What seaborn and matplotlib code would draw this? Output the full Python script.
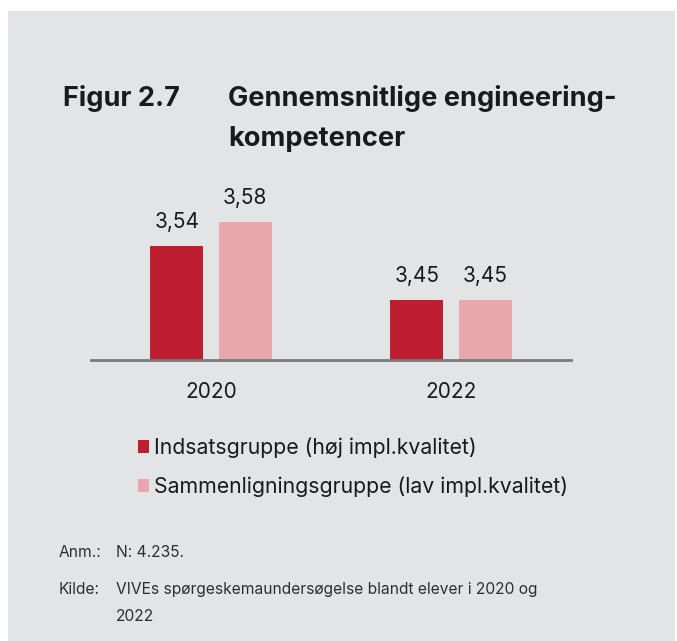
import matplotlib
matplotlib.use("Agg")
import matplotlib.pyplot as plt
import matplotlib.patches as mpatches
import seaborn as sns
import pandas as pd

years = ["2020", "2022"]
groups = ["Indsatsgruppe (høj impl.kvalitet)", "Sammenligningsgruppe (lav impl.kvalitet)"]
values_indsats = [3.54, 3.45]
values_sammen = [3.58, 3.45]
colors = ["#be1e2f", "#e8a7ac"]

df = pd.DataFrame({
    "year": years * 2,
    "group": [groups[0]] * 2 + [groups[1]] * 2,
    "value": values_indsats + values_sammen,
})

sns.set_theme(style="white")
plt.rcParams["font.family"] = ["Inter", "DejaVu Sans"]

W, H = 677, 641
fig = plt.figure(figsize=(W / 100, H / 100), dpi=100)
fig.patch.set_facecolor("white")
bg = mpatches.Rectangle((8 / W, 0), (675 - 8) / W, (H - 11) / H, transform=fig.transFigure,
                        facecolor="#e3e4e6", edgecolor="none", zorder=-10)
fig.patches.append(bg)

ax = fig.add_axes([91 / W, (H - 360) / H, 480 / W, 150 / H])
ax.set_facecolor("none")
sns.barplot(data=df, x="year", y="value", hue="group", order=years, hue_order=groups,
            palette=colors, width=0.571, gap=0.22, ax=ax, saturation=1, legend=True,
            edgecolor="none", err_kws={"linewidth": 0})
ax.set_ylim(3.35, 3.6)
ax.set_xlim(-0.5, 1.5)
for s in ["top", "right", "left"]:
    ax.spines[s].set_visible(False)
ax.spines["bottom"].set_color("#7a7a7a")
ax.spines["bottom"].set_linewidth(2)
ax.set_yticks([])
ax.set_xlabel("")
ax.set_ylabel("")
ax.tick_params(axis="x", length=0, pad=16, labelsize=15, labelcolor="#1a1a1a")

for cont in ax.containers:
    for bar in cont:
        h = bar.get_height()
        ax.annotate(f"{h:.2f}".replace(".", ","), (bar.get_x() + bar.get_width() / 2, h),
                    xytext=(0, 10), textcoords="offset points", ha="center", va="bottom",
                    fontsize=15, color="#1a1a1a")

leg = ax.get_legend()
handles = leg.legend_handles
leg.remove()
fig.legend(handles, groups, loc="upper left", bbox_to_anchor=(129 / W, 1 - 429 / H),
           frameon=False, fontsize=15.3, handlelength=0.56, handleheight=0.56,
           handletextpad=0.2, labelspacing=0.88, borderaxespad=0, labelcolor="#1a1a1a")

def ftext(x, y, s, **kw):
    fig.text(x / W, 1 - y / H, s, va="baseline", color="#1a1a1a", **kw)

ftext(63, 106, "Figur 2.7", fontsize=19.5, fontweight="bold")
ftext(228, 106, "Gennemsnitlige engineering-", fontsize=19.5, fontweight="bold")
ftext(228, 146, "kompetencer", fontsize=19.5, fontweight="bold")

ftext(59, 557, "Anm.:", fontsize=11.2, alpha=0.9)
ftext(116, 557, "N: 4.235.", fontsize=11.2, alpha=0.9)
ftext(59, 594, "Kilde:", fontsize=11.2, alpha=0.9)
ftext(116, 594, "VIVEs spørgeskemaundersøgelse blandt elever i 2020 og", fontsize=11.2, alpha=0.9)
ftext(116, 621, "2022", fontsize=11.2, alpha=0.9)

fig.savefig("out.png", dpi=100)
